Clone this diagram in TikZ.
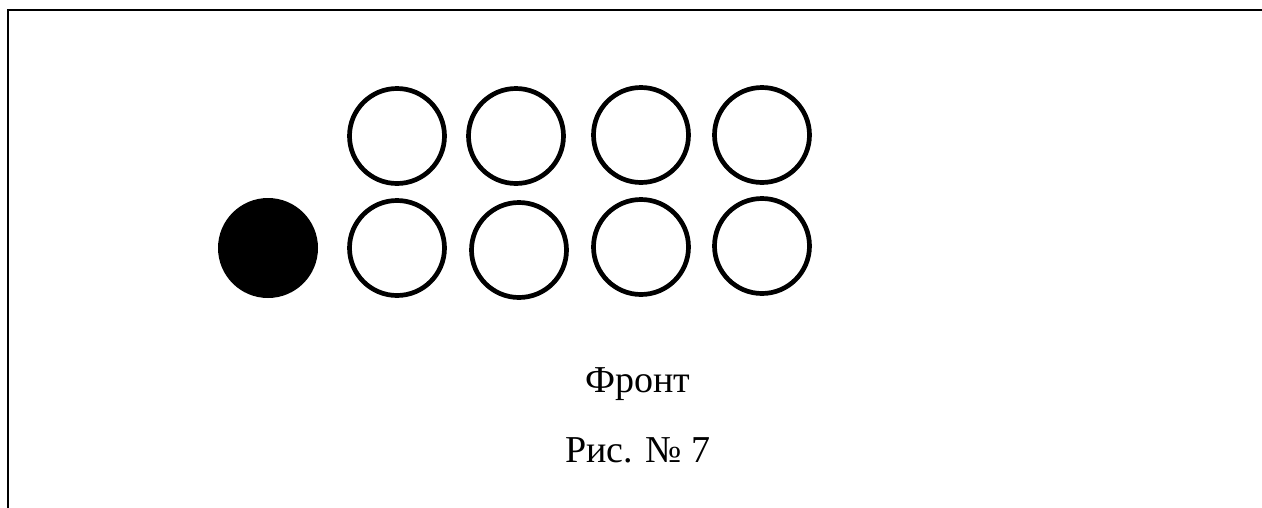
\documentclass[tikz,border=0pt]{standalone}
\usepackage{fontspec}
\setmainfont{Liberation Serif}
\begin{document}
\begin{tikzpicture}[x=1pt,y=-1pt,
  ring/.style={circle,draw=black,line width=4.7pt,minimum size=95pt,inner sep=0pt},
  dot/.style={circle,fill=black,minimum size=100pt,inner sep=0pt},
  label/.style={font=\fontsize{38}{42}\selectfont,inner sep=0pt,anchor=base}]
\useasboundingbox (0,0) rectangle (1262,507);
\draw[line width=2.5pt] (8,520) -- (8,10) -- (1270,10);
\node[ring] (t1) at (397,136) {};
\node[ring] (t2) at (516,136) {};
\node[ring] (t3) at (641,135) {};
\node[ring] (t4) at (762,135) {};
\node[dot] (f) at (268,248) {};
\node[ring] (b1) at (397,248) {};
\node[ring] (b2) at (519,250) {};
\node[ring] (b3) at (641,247) {};
\node[ring] (b4) at (762,246) {};
\node[label] (front) at (638,392) {Фронт};
\node[label] (fig) at (638,462) {Рис. № 7};
\end{tikzpicture}
\end{document}
